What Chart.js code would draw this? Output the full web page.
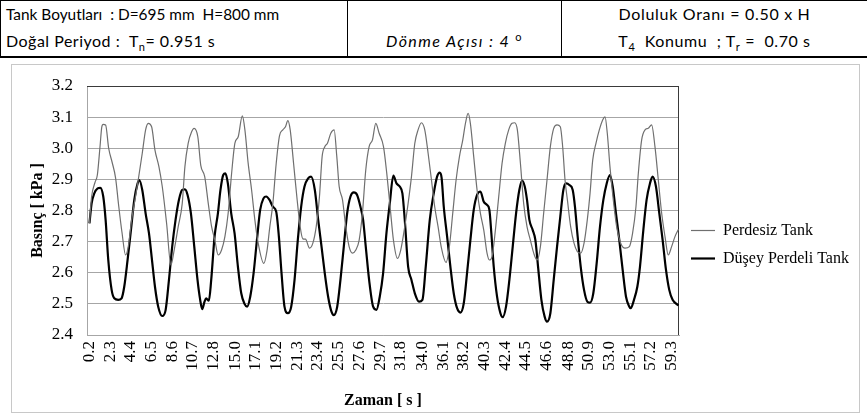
<!DOCTYPE html>
<html>
<head>
<meta charset="utf-8">
<script src="https://cdn.jsdelivr.net/npm/chart.js@4.4.1/dist/chart.umd.min.js"></script>
<style>
  body { margin: 0; background: #fff; }
  #page { position: relative; width: 867px; height: 418px; overflow: hidden; font-family: Lato, "Open Sans", sans-serif; }
  .h { position: absolute; font-size: 16px; line-height: 18px; white-space: nowrap; color: #000; }
  .h sub, .h sup { font-size: 11px; line-height: 0; }
  .c { text-align: center; }
  .ln { position: absolute; background: #000; }
  #box { position: absolute; left: 11px; top: 64px; width: 847px; height: 347px; border: 1px solid #c8c8c8; }
  #wrap { position: absolute; left: 12px; top: 65px; width: 848px; height: 348px; }
</style>
</head>
<body>
<div id="page">
  <div class="ln" style="left:0;top:0;width:867px;height:1px"></div>
  <div class="ln" style="left:0;top:0;width:1px;height:58px"></div>
  <div class="ln" style="left:347px;top:0;width:1px;height:57px"></div>
  <div class="ln" style="left:561px;top:0;width:1px;height:57px"></div>
  <div class="ln" style="left:0;top:56px;width:867px;height:2px"></div>

  <div class="h" style="left:6px;top:5px;font-size:15.4px">Tank Boyutları &nbsp;: D=695 mm &nbsp;H=800 mm</div>
  <div class="h" style="left:6px;top:32px;letter-spacing:0.5px">Doğal Periyod : &nbsp;T<sub>n</sub>= 0.951 s</div>
  <div class="h c" style="left:348px;top:32px;width:213px;letter-spacing:1.4px"><i>Dönme Açısı : 4 </i><sup>o</sup></div>
  <div class="h c" style="left:562px;top:5px;width:305px;letter-spacing:0.7px">Doluluk Oranı = 0.50 x H</div>
  <div class="h c" style="left:562px;top:32px;width:305px;letter-spacing:0.6px">T<sub>4</sub> &nbsp;Konumu &nbsp;; T<sub>r</sub> = &nbsp;0.70 s</div>

  <div id="box"></div>
  <div id="wrap"><canvas id="grafik" width="848" height="348"></canvas></div>
</div>
<script>
// Zaman ekseni etiketleri [s]
const zamanEtiketleri = [0.2, 2.3, 4.4, 6.5, 8.6, 10.7, 12.8, 15.0, 17.1, 19.2, 21.3, 23.4, 25.5, 27.6, 29.7,
  31.8, 34.0, 36.1, 38.2, 40.3, 42.4, 44.5, 46.6, 48.8, 50.9, 53.0, 55.1, 57.2, 59.3];

// Perdesiz Tank
const perdesizZaman = [
  0.2, 0.42, 0.76, 1.0, 1.27, 1.45, 1.6, 1.84, 2.15, 2.5,
  2.85, 3.15, 3.5, 3.87, 4.14, 4.48, 4.82, 5.15, 5.56, 5.9,
  6.17, 6.51, 6.85, 7.25, 7.59, 8.03, 8.47, 8.8, 9.21, 9.62,
  9.89, 10.22, 10.57, 10.82, 11.2, 11.5, 11.9, 12.26, 12.6, 12.93,
  13.27, 13.61, 13.95, 14.28, 14.63, 14.96, 15.3, 15.72, 15.98, 16.31,
  16.66, 16.99, 17.3, 17.9, 18.22, 18.5, 18.82, 19.16, 19.49, 19.83,
  20.1, 20.34, 20.58, 20.92, 21.25, 21.59, 21.86, 22.13, 22.54, 22.88,
  23.22, 23.55, 23.82, 24.09, 24.36, 24.7, 25.04, 25.31, 25.55, 25.89,
  26.22, 26.56, 26.9, 27.24, 27.58, 27.91, 28.25, 28.59, 28.93, 29.27,
  29.61, 30.05, 30.38, 30.72, 31.06, 31.47, 31.8, 32.21, 32.55, 32.89,
  33.23, 33.56, 33.9, 34.24, 34.58, 34.92, 35.25, 35.59, 35.93, 36.4,
  36.74, 37.08, 37.42, 37.76, 38.1, 38.37, 38.64, 38.87, 39.21, 39.55,
  39.89, 40.23, 40.56, 40.8, 41.07, 41.41, 41.75, 42.09, 42.42, 42.76,
  43.1, 43.37, 43.64, 43.95, 44.28, 44.62, 44.96, 45.3, 45.64, 45.98,
  46.31, 46.65, 46.99, 47.33, 47.67, 48.0, 48.24, 48.48, 48.72, 49.05,
  49.39, 49.73, 50.07, 50.41, 50.74, 51.02, 51.29, 51.62, 51.96, 52.3,
  52.54, 52.77, 53.04, 53.38, 53.72, 54.13, 54.57, 55.01, 55.34, 55.68,
  55.92, 56.26, 56.6, 56.93, 57.27, 57.61, 57.95, 58.29, 58.63, 58.96,
  59.3, 59.64, 60.0];
const perdesizBasinc = [
  2.76, 2.845, 2.89, 2.914, 3.005, 3.068, 3.077, 3.075, 3.0, 2.955,
  2.905, 2.82, 2.73, 2.657, 2.684, 2.77, 2.834, 2.898, 2.984, 3.059,
  3.08, 3.069, 2.994, 2.941, 2.877, 2.759, 2.625, 2.673, 2.748, 2.823,
  2.941, 3.016, 3.053, 3.064, 3.037, 2.945, 2.909, 2.823, 2.748, 2.705,
  2.657, 2.673, 2.716, 2.791, 2.919, 3.016, 3.037, 3.104, 3.059, 2.952,
  2.866, 2.77, 2.70, 2.63, 2.67, 2.745, 2.823, 2.952, 3.04, 3.059,
  3.069, 3.089, 3.059, 2.952, 2.845, 2.748, 2.709, 2.708, 2.679, 2.695,
  2.748, 2.845, 2.973, 3.005, 3.016, 3.048, 3.059, 2.973, 2.877, 2.834,
  2.748, 2.684, 2.663, 2.673, 2.705, 2.791, 2.93, 3.005, 3.027, 3.08,
  3.048, 3.005, 2.92, 2.812, 2.705, 2.646, 2.673, 2.748, 2.823, 2.909,
  3.016, 3.059, 3.082, 3.059, 2.984, 2.898, 2.812, 2.748, 2.68, 2.633,
  2.684, 2.791, 2.898, 2.973, 3.027, 3.08, 3.112, 3.08, 2.973, 2.866,
  2.791, 2.737, 2.663, 2.641, 2.652, 2.737, 2.845, 2.952, 3.016, 3.059,
  3.08, 3.082, 3.059, 2.952, 2.823, 2.748, 2.705, 2.663, 2.641, 2.684,
  2.791, 2.898, 3.005, 3.064, 3.075, 3.069, 3.005, 2.898, 2.834, 2.748,
  2.695, 2.668, 2.663, 2.695, 2.77, 2.855, 2.962, 3.016, 3.059, 3.091,
  3.101, 3.048, 2.941, 2.834, 2.748, 2.695, 2.679, 2.684, 2.727, 2.812,
  2.919, 3.027, 3.059, 3.064, 3.075, 3.005, 2.898, 2.791, 2.716, 2.657,
  2.684, 2.716, 2.74];

// Düşey Perdeli Tank
const perdeliZaman = [
  0.2, 0.42, 0.69, 1.03, 1.3, 1.6, 1.84, 2.11, 2.45, 2.72,
  3.12, 3.46, 3.73, 4.07, 4.41, 4.75, 5.09, 5.26, 5.56, 5.9,
  6.24, 6.51, 6.85, 7.18, 7.59, 7.93, 8.27, 8.6, 8.94, 9.28,
  9.62, 9.89, 10.16, 10.5, 10.84, 11.17, 11.44, 11.65, 11.88, 12.05,
  12.32, 12.56, 12.9, 13.24, 13.5, 13.78, 14.0, 14.25, 14.59, 14.93,
  15.27, 15.61, 15.94, 16.21, 16.52, 16.86, 17.2, 17.53, 17.87, 18.14,
  18.48, 18.82, 19.16, 19.43, 19.7, 20.0, 20.34, 20.68, 21.02, 21.35,
  21.69, 22.03, 22.4, 22.7, 23.08, 23.42, 23.76, 24.09, 24.43, 24.77,
  25.01, 25.35, 25.68, 26.02, 26.36, 26.7, 27.04, 27.37, 27.71, 27.98,
  28.25, 28.59, 29.0, 29.34, 29.67, 30.01, 30.35, 30.69, 31.05, 31.37,
  31.7, 31.97, 32.21, 32.55, 32.89, 33.23, 33.66, 34.0, 34.34, 34.75,
  35.15, 35.49, 35.76, 35.95, 36.17, 36.51, 36.84, 37.18, 37.52, 37.86,
  38.2, 38.53, 38.87, 39.21, 39.55, 39.89, 40.23, 40.56, 40.8, 41.0,
  41.24, 41.58, 41.92, 42.15, 42.49, 42.83, 43.17, 43.51, 43.84, 44.12,
  44.39, 44.62, 44.86, 45.2, 45.47, 45.74, 46.08, 46.41, 46.65, 46.99,
  47.33, 47.67, 48.0, 48.31, 48.58, 48.92, 49.26, 49.49, 49.73, 50.07,
  50.41, 50.75, 51.02, 51.35, 51.69, 52.03, 52.37, 52.71, 53.04, 53.32,
  53.65, 53.99, 54.33, 54.67, 55.01, 55.14, 55.48, 55.82, 56.09, 56.43,
  56.76, 57.1, 57.37, 57.71, 58.05, 58.39, 58.73, 59.06, 59.4, 60.0];
const perdeliBasinc = [
  2.759, 2.823, 2.855, 2.871, 2.873, 2.845, 2.77, 2.641, 2.545, 2.518,
  2.513, 2.518, 2.555, 2.641, 2.737, 2.834, 2.887, 2.898, 2.866, 2.791,
  2.727, 2.652, 2.555, 2.491, 2.461, 2.48, 2.577, 2.684, 2.77, 2.834,
  2.866, 2.868, 2.85, 2.791, 2.684, 2.577, 2.513, 2.483, 2.507, 2.518,
  2.51, 2.577, 2.716, 2.791, 2.866, 2.914, 2.919, 2.887, 2.791, 2.727,
  2.62, 2.534, 2.5, 2.491, 2.523, 2.598, 2.705, 2.802, 2.839, 2.845,
  2.834, 2.812, 2.796, 2.716, 2.598, 2.491, 2.47, 2.491, 2.577, 2.705,
  2.812, 2.877, 2.903, 2.909, 2.866, 2.77, 2.684, 2.598, 2.523, 2.475,
  2.464, 2.491, 2.577, 2.684, 2.791, 2.845, 2.858, 2.85, 2.812, 2.77,
  2.684, 2.577, 2.491, 2.481, 2.523, 2.598, 2.727, 2.823, 2.912, 2.887,
  2.877, 2.855, 2.77, 2.62, 2.577, 2.534, 2.507, 2.513, 2.62, 2.77,
  2.855, 2.909, 2.922, 2.905, 2.812, 2.716, 2.62, 2.534, 2.486, 2.472,
  2.502, 2.598, 2.705, 2.802, 2.85, 2.861, 2.828, 2.818, 2.802, 2.727,
  2.62, 2.523, 2.47, 2.457, 2.491, 2.577, 2.684, 2.791, 2.866, 2.896,
  2.877, 2.834, 2.77, 2.737, 2.705, 2.62, 2.513, 2.459, 2.443, 2.47,
  2.577, 2.684, 2.78, 2.866, 2.887, 2.882, 2.866, 2.812, 2.727, 2.62,
  2.545, 2.507, 2.504, 2.534, 2.63, 2.748, 2.834, 2.887, 2.914, 2.877,
  2.791, 2.705, 2.609, 2.523, 2.491, 2.486, 2.513, 2.555, 2.62, 2.737,
  2.834, 2.887, 2.909, 2.877, 2.791, 2.705, 2.609, 2.545, 2.513, 2.495];

const nokta = (zs, ps) => zs.map((z, i) => ({ x: z, y: ps[i] }));

const serif = "'Liberation Serif', 'Times New Roman', serif";
const gridGri = '#a6a6a6';

// legend kutusu: sabit genislik, biraz yukari
const legendAyar = {
  id: 'legendAyar',
  beforeLayout(chart) {
    const lg = chart.legend;
    if (lg && !lg._sabit) {
      const fit = lg.fit;
      lg.fit = function () { fit.call(this); this.width = 181; };
      lg._sabit = true;
    }
  },
  afterLayout(chart) {
    const lg = chart.legend;
    if (lg) { lg.top -= 5; lg.bottom -= 5; }
  }
};

// cizim alani ust ve sag kenar cizgisi
const cerceve = {
  id: 'cerceve',
  beforeDatasetsDraw(chart) {
    const { ctx, chartArea: a } = chart;
    ctx.save();
    ctx.strokeStyle = '#3a3a3a';
    ctx.lineWidth = 1;
    ctx.beginPath();
    ctx.moveTo(a.left, a.top + 0.5);
    ctx.lineTo(a.right - 0.5, a.top + 0.5);
    ctx.lineTo(a.right - 0.5, a.bottom);
    ctx.stroke();
    ctx.restore();
  }
};

new Chart(document.getElementById('grafik'), {
  type: 'line',
  data: {
    datasets: [
      {
        label: 'Perdesiz Tank',
        data: nokta(perdesizZaman, perdesizBasinc),
        borderColor: '#6f6f6f',
        backgroundColor: '#6f6f6f',
        borderWidth: 1.2,
        pointRadius: 0,
        cubicInterpolationMode: 'monotone'
      },
      {
        label: 'Düşey Perdeli Tank',
        data: nokta(perdeliZaman, perdeliBasinc),
        borderColor: '#000',
        backgroundColor: '#000',
        borderWidth: 2.2,
        pointRadius: 0,
        cubicInterpolationMode: 'monotone'
      }
    ]
  },
  options: {
    responsive: false,
    animation: false,
    layout: { padding: { top: 21, left: 0, right: 0, bottom: 0 } },
    plugins: {
      tooltip: { enabled: false },
      legend: {
        position: 'right',
        labels: {
          usePointStyle: true,
          pointStyle: 'line',
          pointStyleWidth: 24,
          padding: 12,
          color: '#000',
          font: { family: serif, size: 16 }
        }
      }
    },
    scales: {
      x: {
        type: 'linear',
        min: -0.05,
        max: 60.05,
        afterBuildTicks(s) { s.ticks = zamanEtiketleri.map(v => ({ value: v })); },
        afterFit(s) { s.height = 78; s.paddingLeft = 0; s.paddingRight = 0; },
        grid: { display: false, drawTicks: false },
        border: { display: true, color: gridGri },
        ticks: {
          autoSkip: false,
          minRotation: 90,
          maxRotation: 90,
          padding: 6,
          color: '#000',
          font: { family: serif, size: 17 },
          callback: v => Number(v).toFixed(1)
        },
        title: {
          display: true,
          text: 'Zaman [ s ]',
          color: '#000',
          font: { family: serif, size: 16, weight: 'bold' },
          padding: { top: 0, bottom: 3 }
        }
      },
      y: {
        min: 2.4,
        max: 3.2,
        afterFit(s) { s.width = 75; s.paddingTop = 0; s.paddingBottom = 0; },
        grid: {
          drawTicks: false,
          color: c => (c.tick && Math.abs(c.tick.value - 3.2) < 1e-6 ? '#3a3a3a' : gridGri)
        },
        border: { display: true, color: gridGri },
        ticks: {
          stepSize: 0.1,
          padding: 14,
          color: '#000',
          font: { family: serif, size: 17 },
          callback: v => Number(v).toFixed(1)
        },
        title: {
          display: true,
          text: 'Basınç [ kPa ]',
          color: '#000',
          font: { family: serif, size: 16, weight: 'bold' },
          padding: { top: 16, bottom: 0 }
        }
      }
    }
  },
  plugins: [legendAyar, cerceve]
});
</script>
</body>
</html>
